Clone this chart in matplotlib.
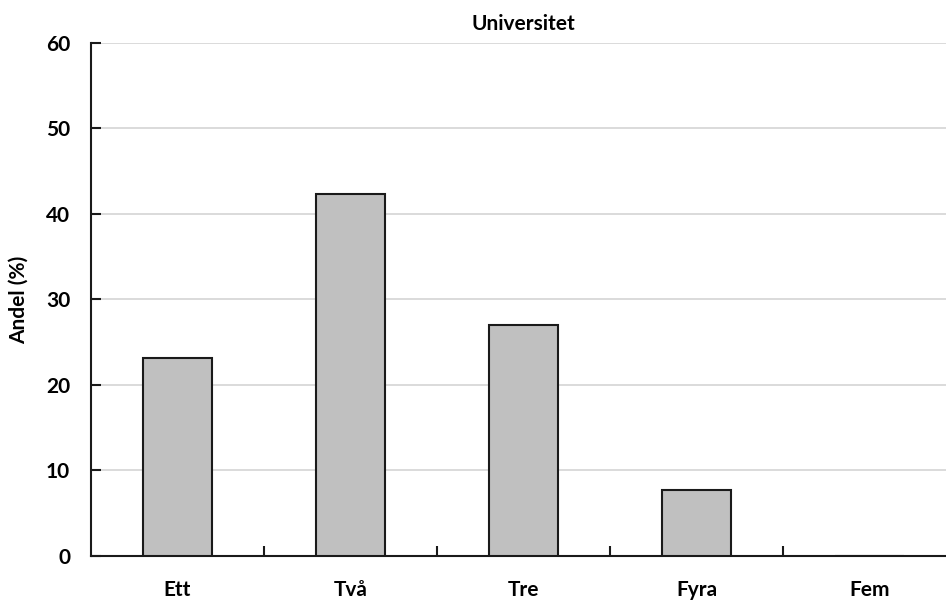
import numpy as np
import matplotlib
matplotlib.use('Agg')
import matplotlib.pyplot as plt

plt.rcParams['font.family'] = ['Lato', 'DejaVu Sans']

# Data
kategorier = ['Ett', 'Två', 'Tre', 'Fyra', 'Fem']
andel = [23.1, 42.3, 27.0, 7.7, 0.0]
y_ticks = [0, 10, 20, 30, 40, 50, 60]

fig = plt.figure(figsize=(9.46, 6.01), dpi=100)
ax = fig.add_axes([0.0962, 0.0749, 0.9144, 0.8536])

x = np.arange(len(kategorier))
ax.bar(x, andel, width=0.4, color='#c0c0c0', edgecolor='#1a1a1a', linewidth=1.5, zorder=3)

ax.set_xlim(-0.5, len(kategorier) - 0.5)
ax.set_ylim(0, 60)
ax.set_yticks(y_ticks)
ax.yaxis.grid(True, color='#d4d4d4', linewidth=1.2, zorder=0)

# kategorietiketter mellan gränserna, streck vid gränserna
ax.set_xticks(x)
ax.set_xticklabels(kategorier, fontsize=15, fontweight='bold')
ax.set_xticks(np.arange(0.5, len(kategorier) - 0.5), minor=True)
ax.tick_params(axis='x', which='major', length=0, pad=17)
ax.tick_params(axis='x', which='minor', direction='in', length=7, width=1.5, color='#1a1a1a')
ax.tick_params(axis='y', direction='in', length=7, width=1.5, color='#1a1a1a', labelsize=15, pad=15)
for lab in ax.get_yticklabels():
    lab.set_fontweight('bold')

for side in ['top', 'right']:
    ax.spines[side].set_visible(False)
for side in ['left', 'bottom']:
    ax.spines[side].set_linewidth(1.5)
    ax.spines[side].set_color('#1a1a1a')

ax.set_ylabel('Andel (%)', fontsize=15, fontweight='bold', labelpad=12)
ax.set_title('Universitet', fontsize=15, fontweight='bold', pad=9)

fig.savefig('out.png', dpi=100)
